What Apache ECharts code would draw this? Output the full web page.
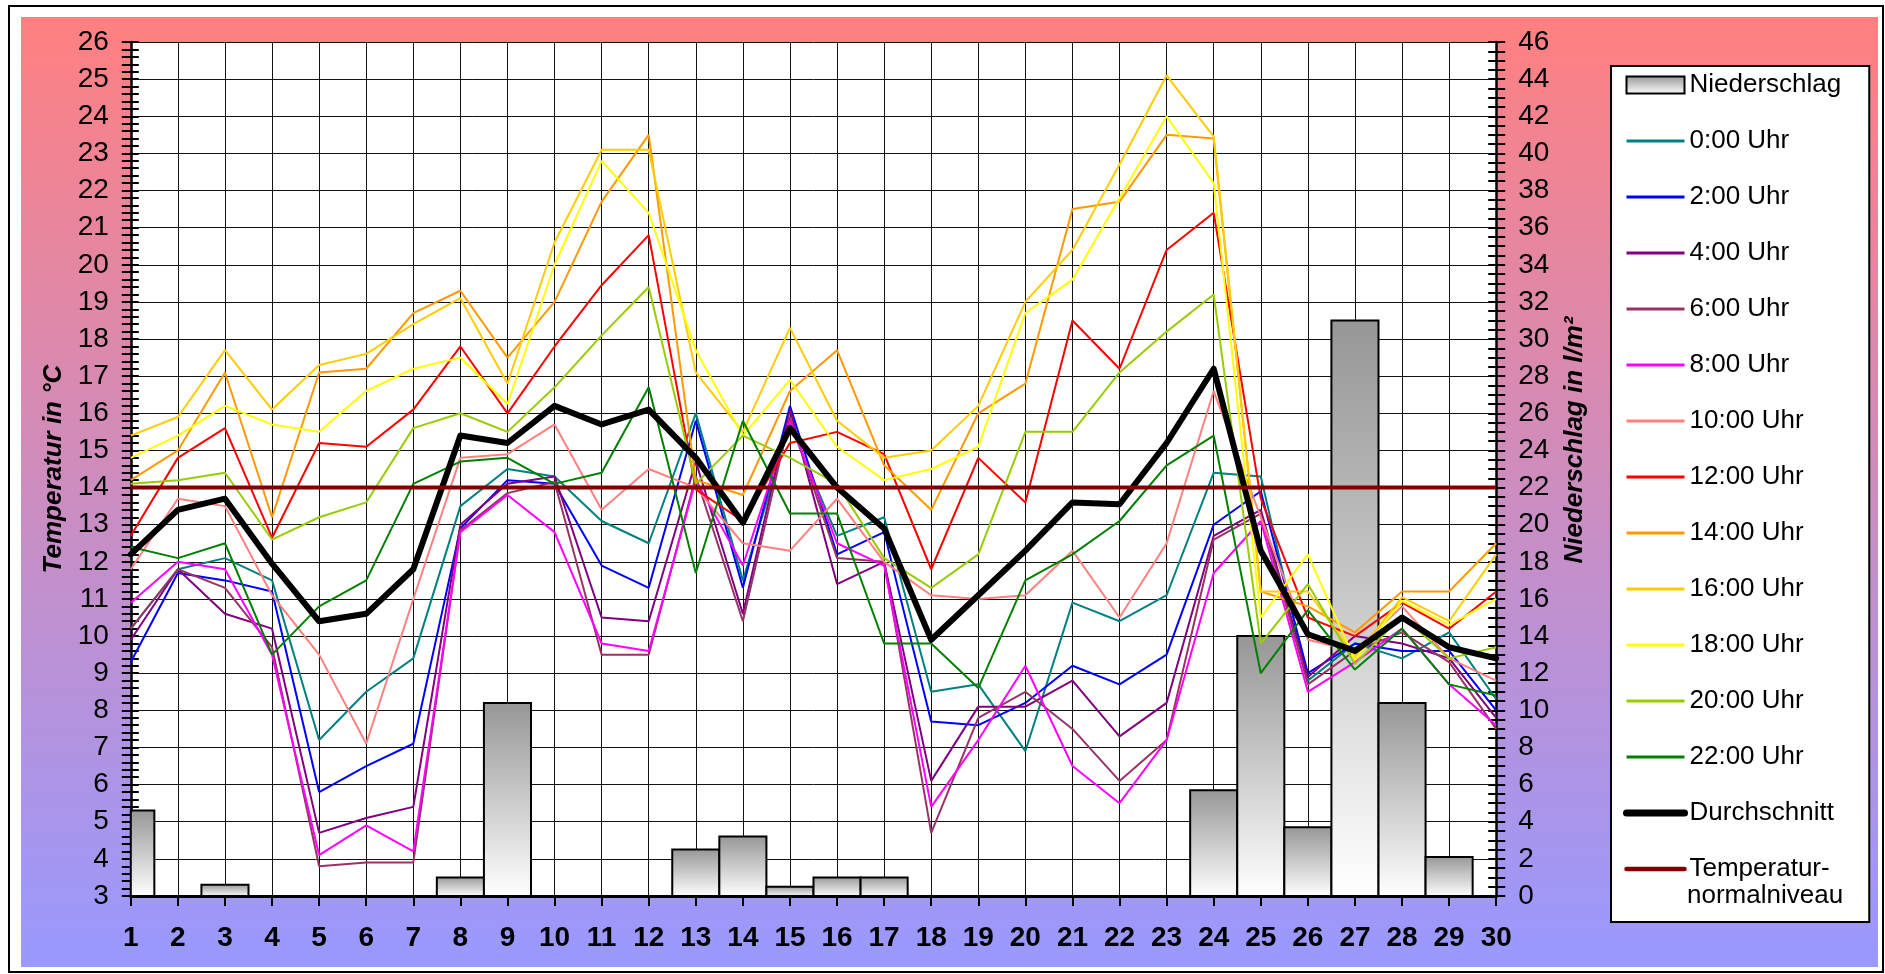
<!DOCTYPE html>
<html><head><meta charset="utf-8">
<script src="https://cdn.jsdelivr.net/npm/echarts@6/dist/echarts.min.js"></script>
<style>html,body{margin:0;padding:0;background:#fff}#c{width:1885px;height:974px}</style>
</head><body><div id="c"></div>
<script>
const FONT = 'Liberation Sans, Arial, sans-serif';
const days = ['1','2','3','4','5','6','7','8','9','10','11','12','13','14','15','16','17','18','19','20','21','22','23','24','25','26','27','28','29','30'];
const niederschlag = [4.6,0,0.6,0,0,0,0,1.0,10.4,0,0,0,2.5,3.2,0.5,1.0,1.0,0,0,0,0,0,0,5.7,14.0,3.7,31.0,10.4,2.1,0];
const t0000 = [10.2,11.8,12.1,11.5,7.2,8.5,9.4,13.5,14.5,14.3,13.1,12.5,16.0,11.5,15.7,12.7,13.2,8.5,8.7,6.9,10.9,10.4,11.1,14.4,14.3,8.8,9.8,9.4,10.1,8.3];
const t0200 = [9.3,11.7,11.5,11.2,5.8,6.5,7.1,12.9,14.2,14.1,11.9,11.3,15.8,11.3,16.2,12.2,12.8,7.7,7.6,8.2,9.2,8.7,9.5,13.0,13.9,9.0,9.8,9.6,9.6,8.0];
const t0400 = [9.9,11.8,10.6,10.2,4.7,5.1,5.4,13.0,14.1,14.3,10.5,10.4,14.7,10.6,16.1,11.4,12.0,6.1,8.1,8.1,8.8,7.3,8.2,12.7,13.4,8.9,10.0,9.8,9.4,7.8];
const t0600 = [10.2,11.8,11.3,9.7,3.8,3.9,3.9,12.85,13.85,14.15,9.5,9.5,14.3,10.4,15.9,12.1,12.0,4.7,7.8,8.5,7.5,6.1,7.2,12.6,13.3,8.7,9.6,10.1,9.3,7.5];
const t0800 = [10.9,12.0,11.8,9.5,4.1,4.9,4.2,12.8,13.8,12.8,9.8,9.6,14.2,11.9,15.8,12.5,11.9,5.4,7.2,9.2,6.5,5.5,7.2,11.7,13.1,8.5,9.3,10.2,8.7,7.6];
const t1000 = [11.8,13.7,13.5,11.1,9.5,7.1,11.0,14.8,14.9,15.7,13.4,14.5,14.0,12.5,12.3,13.7,12.0,11.1,11.0,11.1,12.3,10.5,12.5,16.6,13.2,9.9,9.6,10.8,9.4,8.8];
const t1200 = [12.7,14.8,15.6,12.65,15.2,15.1,16.1,17.8,16.0,17.8,19.45,20.8,13.95,13.1,15.2,15.5,14.9,11.8,14.8,13.6,18.5,17.2,20.4,21.4,13.7,10.5,10.0,10.9,10.2,11.2];
const t1400 = [14.2,15.0,17.1,13.2,17.1,17.2,18.7,19.3,17.5,19.0,21.7,23.5,14.2,13.8,16.6,17.7,14.6,13.4,16.0,16.8,21.5,21.7,23.5,23.4,11.2,10.8,10.1,11.2,11.2,12.5];
const t1600 = [15.4,15.9,17.7,16.1,17.3,17.6,18.4,19.1,16.8,20.6,23.1,23.1,17.1,15.5,18.3,15.8,14.8,15.0,16.2,19.0,20.4,22.7,25.1,23.45,11.2,11.2,9.45,11.05,10.4,12.2];
const t1800 = [14.8,15.4,16.2,15.7,15.5,16.6,17.2,17.5,16.25,20.0,22.8,21.4,17.7,15.4,16.9,15.1,14.2,14.5,15.1,18.7,19.6,21.8,24.0,22.2,10.5,12.2,9.35,10.95,10.3,11.0];
const t2000 = [14.1,14.2,14.4,12.6,13.2,13.6,15.6,16.0,15.5,16.7,18.1,19.4,14.1,15.4,14.8,14.1,12.1,11.3,12.2,15.5,15.5,17.1,18.2,19.2,9.8,11.4,9.25,10.55,9.4,9.7];
const t2200 = [12.4,12.1,12.5,9.5,10.8,11.5,14.1,14.7,14.8,14.1,14.4,16.7,11.7,15.8,13.3,13.3,9.8,9.8,8.6,11.5,12.2,13.1,14.6,15.4,9.0,10.7,9.1,10.2,8.7,8.4];
const durchschnitt = [12.2,13.4,13.7,11.95,10.4,10.6,11.8,15.4,15.2,16.2,15.7,16.1,14.8,13.05,15.6,14.0,12.9,9.9,11.1,12.3,13.6,13.55,15.2,17.2,12.3,10.05,9.6,10.5,9.7,9.4];
const normalniveau = [14,14,14,14,14,14,14,14,14,14,14,14,14,14,14,14,14,14,14,14,14,14,14,14,14,14,14,14,14,14];

const hourly = [
  ['0:00 Uhr', t0000, '#008080'],
  ['2:00 Uhr', t0200, '#0000FF'],
  ['4:00 Uhr', t0400, '#800080'],
  ['6:00 Uhr', t0600, '#993366'],
  ['8:00 Uhr', t0800, '#FF00FF'],
  ['10:00 Uhr', t1000, '#FF8080'],
  ['12:00 Uhr', t1200, '#FF0000'],
  ['14:00 Uhr', t1400, '#FF9900'],
  ['16:00 Uhr', t1600, '#FFCC00'],
  ['18:00 Uhr', t1800, '#FFFF00'],
  ['20:00 Uhr', t2000, '#99CC00'],
  ['22:00 Uhr', t2200, '#008000']
];

const chart = echarts.init(document.getElementById('c'), null, {renderer: 'canvas'});
const gradStops = [{offset: 0, color: '#969696'}, {offset: 1, color: '#ffffff'}];
const barGrad = new echarts.graphic.LinearGradient(0, 0, 0, 1, gradStops);

function renderBar(params, api) {
  const i = api.value(0), v = api.value(1);
  if (!v) return null;
  const top = api.coord([i, v]);
  const base = api.coord([i, 0]);
  const w = api.size([1, 0])[0];
  const cs = params.coordSys;
  const shape = echarts.graphic.clipRectByRect(
    {x: top[0] - w / 2, y: top[1], width: w, height: base[1] - top[1]},
    {x: cs.x, y: cs.y, width: cs.width, height: cs.height});
  if (!shape) return null;
  return {type: 'rect', shape: shape,
    style: {fill: new echarts.graphic.LinearGradient(0, 0, 0, 1, gradStops), stroke: '#000', lineWidth: 2}};
}

const series = [{
  name: 'Niederschlag', type: 'custom', yAxisIndex: 1, z: 1,
  data: niederschlag.map((v, i) => [i, v]),
  encode: {x: 0, y: 1},
  renderItem: renderBar,
  itemStyle: {color: barGrad, borderColor: '#000', borderWidth: 2}
}];
hourly.forEach(h => series.push({
  name: h[0], type: 'line', yAxisIndex: 0, data: h[1], symbol: 'none', z: 3,
  lineStyle: {color: h[2], width: 2}, itemStyle: {color: h[2]}
}));
series.push({
  name: 'Durchschnitt', type: 'line', yAxisIndex: 0, data: durchschnitt, symbol: 'none', z: 4,
  lineStyle: {color: '#000', width: 6, join: 'round', cap: 'round'}, itemStyle: {color: '#000'}
});
series.push({
  name: 'Temperaturnormalniveau', type: 'line', yAxisIndex: 0, data: normalniveau, symbol: 'none', z: 5,
  lineStyle: {color: '#800000', width: 4}, itemStyle: {color: '#800000'}
});

const legendData = [{name: 'Niederschlag', icon: 'rect', itemStyle: {color: barGrad, borderColor: '#000', borderWidth: 2}}]
  .concat(hourly.map(h => ({name: h[0], itemStyle: {opacity: 0}, lineStyle: {width: 3}})))
  .concat([
    {name: 'Durchschnitt', itemStyle: {opacity: 0}, lineStyle: {width: 7, cap: 'round'}},
    {name: 'Temperaturnormalniveau', itemStyle: {opacity: 0}, lineStyle: {width: 4.5, cap: 'round'}}
  ]);

const tickStyle = {color: '#000', width: 2};
const option = {
  animation: false,
  backgroundColor: '#fff',
  graphic: [
    {type: 'rect', z: -20, shape: {x: 9, y: 6, width: 1874, height: 966}, style: {fill: '#fff', stroke: '#000', lineWidth: 2}},
    {type: 'rect', z: -10, shape: {x: 21, y: 17, width: 1857, height: 950},
     style: {fill: new echarts.graphic.LinearGradient(0, 0, 0, 1, [{offset: 0, color: '#FF8080'}, {offset: 1, color: '#9999FF'}])}},
    {type: 'text', z: 100, left: 1687, top: 883,
     style: {text: 'normalniveau', fontSize: 26, fontFamily: FONT, fill: '#000'}}
  ],
  grid: {left: 130.8, top: 42, width: 1365.4, height: 854, show: true, backgroundColor: '#fff', borderWidth: 0},
  legend: {
    orient: 'vertical', left: 1611, top: 66,
    padding: [4, 28, 38, 12], backgroundColor: '#fff', borderColor: '#000', borderWidth: 2,
    itemWidth: 58, itemHeight: 17, itemGap: 26,
    textStyle: {fontSize: 26, fontFamily: FONT, color: '#000', lineHeight: 30},
    data: legendData,
    formatter: n => n === 'Temperaturnormalniveau' ? 'Temperatur-' : n
  },
  xAxis: {
    type: 'category', data: days, boundaryGap: false,
    axisLine: {lineStyle: {color: '#000', width: 3}},
    axisTick: {show: true, length: 10, interval: 0, lineStyle: tickStyle},
    axisLabel: {interval: 0, fontSize: 28, fontWeight: 'bold', color: '#000', fontFamily: FONT, margin: 28},
    splitLine: {show: true, interval: 0, lineStyle: {color: '#111', width: 1}}
  },
  yAxis: [
    {type: 'value', position: 'left', min: 3, max: 26, interval: 1,
     axisLine: {show: true, lineStyle: {color: '#000', width: 2.5}},
     axisTick: {show: true, length: 9, lineStyle: tickStyle},
     minorTick: {show: true, splitNumber: 5, length: 9, lineStyle: tickStyle},
     axisLabel: {fontSize: 28, color: '#000', margin: 22, fontFamily: FONT},
     splitLine: {show: true, lineStyle: {color: '#111', width: 1}},
     name: 'Temperatur in °C', nameLocation: 'middle', nameGap: 62, nameRotate: 90,
     nameTextStyle: {fontSize: 26, fontWeight: 'bold', fontStyle: 'italic', color: '#000', fontFamily: FONT}},
    {type: 'value', position: 'right', min: 0, max: 46, interval: 2,
     axisLine: {show: true, lineStyle: {color: '#000', width: 2.5}},
     axisTick: {show: true, length: 9, lineStyle: tickStyle},
     minorTick: {show: true, splitNumber: 4, length: 9, lineStyle: tickStyle},
     axisLabel: {fontSize: 28, color: '#000', margin: 22, fontFamily: FONT},
     splitLine: {show: false},
     name: 'Niederschlag in l/m²', nameLocation: 'middle', nameGap: 66, nameRotate: 90,
     nameTextStyle: {fontSize: 26, fontWeight: 'bold', fontStyle: 'italic', color: '#000', fontFamily: FONT, padding: [0, 0, 0, 58]}},
    {type: 'value', position: 'left', min: 3, max: 26, interval: 1,
     axisLine: {show: false}, axisLabel: {show: false}, splitLine: {show: false},
     axisTick: {show: true, inside: true, length: 8, lineStyle: tickStyle},
     minorTick: {show: true, splitNumber: 5, length: 8, lineStyle: tickStyle}},
    {type: 'value', position: 'right', min: 0, max: 46, interval: 2,
     axisLine: {show: false}, axisLabel: {show: false}, splitLine: {show: false},
     axisTick: {show: true, inside: true, length: 8, lineStyle: tickStyle},
     minorTick: {show: true, splitNumber: 4, length: 8, lineStyle: tickStyle}}
  ],
  series: series
};
chart.setOption(option);
</script>
</body></html>
